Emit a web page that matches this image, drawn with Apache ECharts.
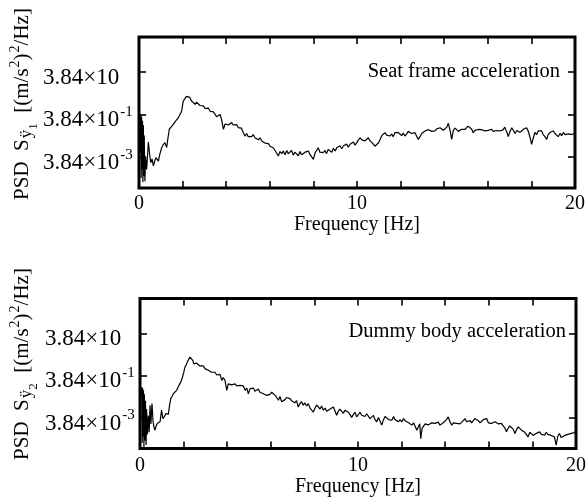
<!DOCTYPE html>
<html><head><meta charset="utf-8">
<script src="https://cdn.jsdelivr.net/npm/echarts@6/dist/echarts.min.js"></script>
<style>html,body{margin:0;padding:0;background:#fff}#c{width:587px;height:504px}</style>
</head><body><div id="c"></div>
<script>
// PSD values as exponent e, where PSD = 3.84 x 10^e  [(m/s^2)^2/Hz]; pairs are [frequency Hz, e]
const seatFrame = [[0.05,-2.8],[0.08,-1.0],[0.1,-4.0],[0.12,-1.1],[0.14,-3.6],[0.16,-1.3],[0.18,-4.2],[0.2,-1.5],[0.22,-3.9],[0.24,-2.0],[0.27,-4.15],[0.3,-3.0],[0.35,-3.6],[0.43,-2.3],[0.5,-3.0],[0.54,-3.27],[0.6,-3.1],[0.66,-3.43],[0.72,-3.2],[0.78,-3.04],[0.84,-3.1],[0.89,-3.2],[0.95,-2.9],[1.04,-2.57],[1.1,-2.45],[1.19,-2.33],[1.27,-2.56],[1.33,-2.1],[1.39,-1.7],[1.47,-1.6],[1.57,-1.47],[1.65,-1.35],[1.72,-1.28],[1.8,-1.16],[1.88,-1.0],[1.96,-0.84],[2.0,-0.55],[2.03,-0.37],[2.11,-0.29],[2.18,-0.15],[2.26,-0.06],[2.33,-0.2],[2.41,-0.37],[2.49,-0.45],[2.57,-0.53],[2.64,-0.42],[2.72,-0.45],[2.8,-0.58],[2.87,-0.64],[2.95,-0.6],[3.03,-0.72],[3.1,-0.76],[3.18,-0.7],[3.26,-0.85],[3.33,-0.92],[3.41,-0.88],[3.49,-1.0],[3.56,-1.11],[3.64,-1.05],[3.72,-1.0],[3.8,-1.3],[3.87,-1.7],[3.95,-1.45],[4.02,-1.36],[4.1,-1.5],[4.17,-1.47],[4.25,-1.38],[4.32,-1.5],[4.4,-1.55],[4.48,-1.48],[4.55,-1.62],[4.63,-1.7],[4.7,-1.65],[4.78,-1.85],[4.86,-2.02],[4.94,-1.9],[5.01,-2.05],[5.09,-1.99],[5.17,-2.05],[5.24,-1.95],[5.32,-2.1],[5.4,-2.05],[5.48,-2.2],[5.55,-2.1],[5.63,-2.25],[5.7,-2.18],[5.78,-2.35],[5.86,-2.41],[5.94,-2.38],[6.01,-2.5],[6.08,-2.45],[6.16,-2.57],[6.24,-2.7],[6.31,-2.62],[6.39,-2.96],[6.47,-2.75],[6.55,-2.85],[6.62,-2.73],[6.7,-2.9],[6.78,-2.7],[6.85,-2.85],[6.93,-2.8],[7.0,-2.7],[7.08,-2.92],[7.15,-2.78],[7.23,-2.84],[7.31,-2.95],[7.38,-2.75],[7.46,-2.9],[7.54,-2.88],[7.62,-2.78],[7.69,-2.7],[7.77,-2.73],[7.85,-2.9],[7.92,-2.95],[8.0,-3.12],[8.08,-2.8],[8.15,-2.7],[8.22,-2.57],[8.3,-2.78],[8.38,-2.85],[8.45,-2.8],[8.53,-2.7],[8.6,-2.85],[8.68,-2.65],[8.76,-2.65],[8.84,-2.78],[8.92,-2.6],[9.0,-2.72],[9.07,-2.57],[9.15,-2.65],[9.22,-2.48],[9.3,-2.62],[9.37,-2.49],[9.45,-2.58],[9.52,-2.4],[9.6,-2.55],[9.68,-2.41],[9.76,-2.5],[9.84,-2.3],[9.91,-2.45],[9.99,-2.33],[10.07,-2.2],[10.14,-2.1],[10.22,-2.2],[10.3,-2.12],[10.37,-2.25],[10.44,-2.18],[10.52,-2.1],[10.6,-2.25],[10.67,-2.33],[10.75,-2.4],[10.82,-2.5],[10.9,-2.57],[10.98,-2.35],[11.06,-2.18],[11.14,-2.0],[11.21,-1.95],[11.28,-1.86],[11.36,-1.98],[11.44,-1.9],[11.51,-2.02],[11.59,-1.92],[11.66,-2.05],[11.74,-1.86],[11.82,-1.95],[11.89,-1.85],[11.97,-1.94],[12.05,-2.0],[12.12,-1.88],[12.2,-2.02],[12.28,-1.92],[12.35,-1.8],[12.43,-1.78],[12.5,-1.9],[12.58,-1.82],[12.66,-1.86],[12.74,-1.95],[12.81,-2.18],[12.89,-2.05],[12.97,-1.9],[13.05,-1.82],[13.12,-1.78],[13.2,-1.85],[13.28,-1.72],[13.35,-1.71],[13.43,-1.8],[13.5,-1.75],[13.58,-1.78],[13.66,-1.68],[13.73,-1.72],[13.81,-1.63],[13.89,-1.7],[13.96,-1.75],[14.04,-1.71],[14.12,-1.6],[14.19,-1.42],[14.27,-1.75],[14.34,-2.18],[14.42,-1.75],[14.5,-1.65],[14.57,-1.72],[14.65,-1.8],[14.72,-1.78],[14.8,-1.7],[14.87,-1.75],[14.95,-1.71],[15.03,-1.62],[15.1,-1.55],[15.18,-1.47],[15.26,-1.7],[15.33,-1.86],[15.41,-1.75],[15.48,-1.68],[15.56,-1.71],[15.64,-1.78],[15.71,-1.72],[15.79,-1.73],[15.87,-1.78],[15.94,-1.7],[16.02,-1.75],[16.1,-1.76],[16.17,-1.7],[16.25,-1.8],[16.33,-1.74],[16.4,-1.76],[16.48,-1.7],[16.55,-1.78],[16.63,-1.72],[16.7,-1.73],[16.78,-1.6],[16.86,-1.8],[16.94,-2.05],[17.02,-1.8],[17.1,-1.63],[17.17,-1.75],[17.25,-1.9],[17.33,-1.76],[17.41,-1.68],[17.48,-1.85],[17.56,-1.86],[17.63,-1.7],[17.71,-1.75],[17.78,-1.63],[17.86,-1.8],[17.94,-2.1],[18.01,-2.41],[18.09,-2.1],[18.16,-1.85],[18.24,-1.95],[18.31,-1.78],[18.39,-1.72],[18.47,-1.78],[18.54,-1.95],[18.62,-2.05],[18.7,-2.18],[18.77,-1.95],[18.85,-1.85],[18.93,-1.86],[19.0,-1.78],[19.08,-1.9],[19.16,-1.95],[19.23,-2.05],[19.31,-1.9],[19.39,-2.0],[19.47,-1.85],[19.54,-1.95],[19.62,-1.88],[19.7,-1.92],[19.77,-1.85],[19.85,-1.95],[19.92,-1.9],[20.0,-1.88]];

const dummyBody = [[0.05,-2.0],[0.08,-1.55],[0.1,-4.2],[0.12,-1.6],[0.14,-3.9],[0.16,-1.7],[0.18,-4.4],[0.2,-1.9],[0.22,-4.1],[0.25,-2.2],[0.28,-4.3],[0.3,-2.6],[0.34,-3.8],[0.38,-2.9],[0.42,-3.7],[0.46,-2.42],[0.5,-3.3],[0.55,-2.34],[0.6,-3.2],[0.65,-3.5],[0.69,-3.6],[0.74,-3.4],[0.79,-3.28],[0.85,-3.35],[0.92,-3.2],[0.99,-2.65],[1.05,-3.05],[1.12,-2.95],[1.19,-2.81],[1.25,-2.9],[1.3,-2.85],[1.36,-2.4],[1.41,-2.1],[1.47,-2.0],[1.53,-1.87],[1.6,-1.8],[1.68,-1.71],[1.75,-1.55],[1.83,-1.39],[1.9,-1.25],[1.96,-1.16],[2.01,-0.85],[2.06,-0.61],[2.12,-0.5],[2.17,-0.37],[2.23,-0.25],[2.29,-0.13],[2.35,-0.2],[2.42,-0.29],[2.47,-0.45],[2.52,-0.53],[2.6,-0.42],[2.67,-0.45],[2.75,-0.55],[2.83,-0.61],[2.9,-0.55],[2.98,-0.68],[3.05,-0.65],[3.13,-0.76],[3.2,-0.7],[3.28,-0.85],[3.36,-0.92],[3.44,-0.85],[3.52,-0.98],[3.59,-1.0],[3.67,-0.95],[3.75,-1.24],[3.82,-1.1],[3.9,-1.24],[3.98,-1.71],[4.05,-1.4],[4.13,-1.32],[4.2,-1.45],[4.28,-1.38],[4.36,-1.4],[4.44,-1.5],[4.51,-1.42],[4.59,-1.47],[4.67,-1.55],[4.74,-1.5],[4.82,-1.71],[4.9,-1.6],[4.97,-1.87],[5.05,-1.63],[5.12,-1.71],[5.2,-1.6],[5.27,-1.75],[5.35,-1.79],[5.43,-1.65],[5.5,-1.8],[5.58,-1.72],[5.66,-1.87],[5.73,-1.8],[5.81,-1.95],[5.89,-2.03],[5.96,-1.9],[6.04,-1.8],[6.12,-1.71],[6.2,-1.95],[6.27,-2.05],[6.35,-2.18],[6.42,-2.0],[6.5,-2.25],[6.57,-2.34],[6.65,-2.15],[6.72,-2.05],[6.8,-1.99],[6.88,-2.1],[6.95,-2.2],[7.03,-2.18],[7.1,-2.3],[7.18,-2.2],[7.26,-2.5],[7.33,-2.35],[7.41,-2.25],[7.49,-2.42],[7.56,-2.3],[7.64,-2.45],[7.72,-2.34],[7.8,-2.55],[7.87,-2.5],[7.95,-2.74],[8.03,-2.55],[8.1,-2.4],[8.18,-2.5],[8.26,-2.6],[8.33,-2.45],[8.41,-2.65],[8.49,-2.55],[8.56,-2.7],[8.64,-2.74],[8.72,-2.6],[8.8,-2.55],[8.87,-2.5],[8.95,-2.7],[9.02,-2.89],[9.1,-2.7],[9.17,-2.6],[9.25,-2.65],[9.33,-2.8],[9.4,-2.65],[9.48,-2.57],[9.56,-2.75],[9.63,-2.85],[9.71,-3.0],[9.79,-2.85],[9.86,-2.75],[9.94,-2.97],[10.02,-2.9],[10.09,-2.75],[10.17,-2.89],[10.25,-2.8],[10.32,-2.95],[10.4,-2.82],[10.48,-2.9],[10.55,-3.05],[10.63,-2.97],[10.71,-2.9],[10.78,-3.1],[10.86,-3.2],[10.94,-3.0],[11.01,-2.95],[11.09,-3.36],[11.17,-3.1],[11.24,-2.95],[11.32,-2.97],[11.4,-3.1],[11.47,-3.05],[11.55,-3.13],[11.63,-2.95],[11.7,-3.1],[11.78,-3.05],[11.86,-3.2],[11.93,-3.1],[12.01,-3.21],[12.09,-3.05],[12.16,-3.15],[12.24,-3.13],[12.32,-3.25],[12.39,-3.21],[12.47,-3.36],[12.55,-3.25],[12.61,-3.28],[12.7,-3.6],[12.77,-3.68],[12.83,-3.3],[12.88,-4.0],[12.94,-3.5],[13.0,-3.44],[13.08,-3.3],[13.15,-3.21],[13.22,-3.35],[13.3,-3.36],[13.38,-3.25],[13.45,-3.3],[13.53,-3.28],[13.6,-3.35],[13.68,-3.22],[13.76,-3.36],[13.83,-3.28],[13.91,-3.25],[13.99,-3.21],[14.06,-3.1],[14.14,-2.97],[14.22,-3.2],[14.3,-3.36],[14.38,-3.25],[14.45,-3.3],[14.53,-3.28],[14.6,-3.2],[14.68,-3.3],[14.76,-3.25],[14.83,-3.15],[14.91,-3.05],[14.98,-3.2],[15.06,-3.28],[15.14,-3.15],[15.21,-3.25],[15.29,-3.18],[15.36,-3.05],[15.44,-2.97],[15.52,-3.15],[15.6,-3.25],[15.67,-3.21],[15.75,-3.1],[15.82,-3.15],[15.9,-3.05],[15.98,-3.25],[16.05,-3.2],[16.12,-3.28],[16.2,-3.35],[16.28,-3.2],[16.35,-3.21],[16.43,-3.3],[16.5,-3.25],[16.58,-3.28],[16.66,-3.4],[16.74,-3.5],[16.81,-3.68],[16.89,-3.5],[16.96,-3.4],[17.04,-3.44],[17.12,-3.55],[17.2,-3.76],[17.28,-3.55],[17.35,-3.44],[17.43,-3.5],[17.5,-3.6],[17.58,-3.6],[17.65,-3.7],[17.72,-3.8],[17.8,-3.92],[17.88,-3.7],[17.95,-3.76],[18.03,-3.85],[18.1,-3.92],[18.18,-3.75],[18.26,-3.7],[18.33,-3.68],[18.41,-3.8],[18.48,-3.75],[18.56,-3.84],[18.63,-3.7],[18.71,-3.8],[18.79,-3.76],[18.86,-3.85],[18.94,-3.8],[19.01,-3.92],[19.09,-4.31],[19.16,-3.9],[19.24,-3.76],[19.32,-3.95],[19.4,-4.0],[19.48,-3.85],[19.56,-3.92],[19.63,-3.8],[19.7,-3.84],[19.78,-3.75],[19.86,-3.68],[19.93,-3.72],[20.0,-3.6]];

const yTickValues = [1, -1, -3];
const yTickExponents = ['', '-1', '-3'];
const yTickBase = '3.84×10';
const xLabelValues = [0, 10, 20];
const panelTitles = ['Seat frame acceleration', 'Dummy body acceleration'];
const ySubscripts = ['1', '2'];
const xAxisTitle = 'Frequency [Hz]';

const FONT = '"Liberation Serif", "Times New Roman", serif';
const Y_MIN = -4.47, Y_MAX = 2.65;
const grids = [
  {left: 139, right: 12, top: 37, height: 151},
  {left: 140, right: 11, top: 298.5, height: 150}
];
const labelMargins = [6, 7];
const nameGaps = [24, 28];

const chart = echarts.init(document.getElementById('c'), null, {renderer: 'canvas'});

const tickStyle = {color: '#000', width: 1.6};
const xAxes = [], yAxes = [], series = [];
grids.forEach((g, gi) => {
  xAxes.push({
    type: 'value', gridIndex: gi, min: 0, max: 20, interval: 2, position: 'bottom',
    axisLine: {show: false, onZero: false}, splitLine: {show: false},
    axisTick: {inside: true, length: 7, lineStyle: tickStyle},
    axisLabel: {margin: labelMargins[gi], color: '#000', fontFamily: FONT, fontSize: 20, hideOverlap: false,
      showMinLabel: true, showMaxLabel: true,
      formatter: v => xLabelValues.indexOf(v) >= 0 ? String(v) : ''},
    name: xAxisTitle, nameLocation: 'middle', nameGap: nameGaps[gi],
    nameTextStyle: {color: '#000', fontFamily: FONT, fontSize: 20}
  });
  xAxes.push({
    type: 'value', gridIndex: gi, min: 0, max: 20, interval: 2, position: 'top',
    axisLine: {show: false, onZero: false}, splitLine: {show: false},
    axisTick: {inside: true, length: 7, lineStyle: tickStyle},
    axisLabel: {show: false}
  });
  yAxes.push({
    type: 'value', gridIndex: gi, min: Y_MIN, max: Y_MAX, position: 'left',
    axisLine: {show: false, onZero: false}, splitLine: {show: false},
    axisTick: {inside: true, length: 7, lineStyle: tickStyle, customValues: yTickValues},
    axisLabel: {customValues: yTickValues, align: 'left', margin: 96 - gi, color: '#000',
      formatter: v => {
        const i = yTickValues.indexOf(v);
        const e = yTickExponents[i];
        return '{b|' + yTickBase + '}' + (e ? '{s|' + e + '}' : '');
      },
      rich: {
        b: {fontFamily: FONT, fontSize: 23, lineHeight: 23, color: '#000', padding: [6, 0, 0, 0], verticalAlign: 'top'},
        s: {fontFamily: FONT, fontSize: 15, lineHeight: 15, color: '#000', padding: [2, 0, 0, 1], verticalAlign: 'top'}
      }}
  });
  yAxes.push({
    type: 'value', gridIndex: gi, min: Y_MIN, max: Y_MAX, position: 'right',
    axisLine: {show: false, onZero: false}, splitLine: {show: false},
    axisTick: {inside: true, length: 7, lineStyle: tickStyle, customValues: yTickValues},
    axisLabel: {show: false}
  });
  series.push({
    type: 'line', xAxisIndex: gi * 2, yAxisIndex: gi * 2,
    data: gi === 0 ? seatFrame : dummyBody,
    showSymbol: false, symbol: 'none', silent: true, animation: false,
    lineStyle: {color: '#000', width: 1.2}
  });
});

function yTitle(i, x, y) {
  return {
    type: 'text', x: x, y: y, rotation: Math.PI / 2, silent: true,
    style: {
      text: '{t|PSD  S}{a|ÿ}{b|' + ySubscripts[i] + '}{t|  [(m/s}{p|2}{t|)}{p|2}{t|/Hz]}',
      align: 'center', verticalAlign: 'middle',
      rich: {
        t: {fontFamily: FONT, fontSize: 21, lineHeight: 21, fill: '#000', padding: [6, 0, 0, 0], verticalAlign: 'top'},
        p: {fontFamily: FONT, fontSize: 14, lineHeight: 14, fill: '#000', padding: [3, 0, 0, 1], verticalAlign: 'top'},
        a: {fontFamily: FONT, fontSize: 17, lineHeight: 17, fill: '#000', padding: [13, 0, 0, 1], verticalAlign: 'top'},
        b: {fontFamily: FONT, fontSize: 13, lineHeight: 13, fill: '#000', padding: [22, 0, 0, 0], verticalAlign: 'top'}
      }
    }
  };
}

chart.setOption({
  backgroundColor: '#fff',
  animation: false,
  grid: grids.map(g => Object.assign({show: true, borderColor: '#000', borderWidth: 3,
    backgroundColor: 'transparent', containLabel: false, outerBoundsMode: 'none'}, g)),
  xAxis: xAxes,
  yAxis: yAxes,
  series: series,
  graphic: [
    {type: 'text', x: 560, y: 72, silent: true,
     style: {text: panelTitles[0], font: '20.5px ' + FONT, fill: '#000', align: 'right', verticalAlign: 'middle'}},
    {type: 'text', x: 566, y: 332, silent: true,
     style: {text: panelTitles[1], font: '20.5px ' + FONT, fill: '#000', align: 'right', verticalAlign: 'middle'}},
    yTitle(0, 16, 104),
    yTitle(1, 16, 364)
  ]
});
</script>
</body></html>
